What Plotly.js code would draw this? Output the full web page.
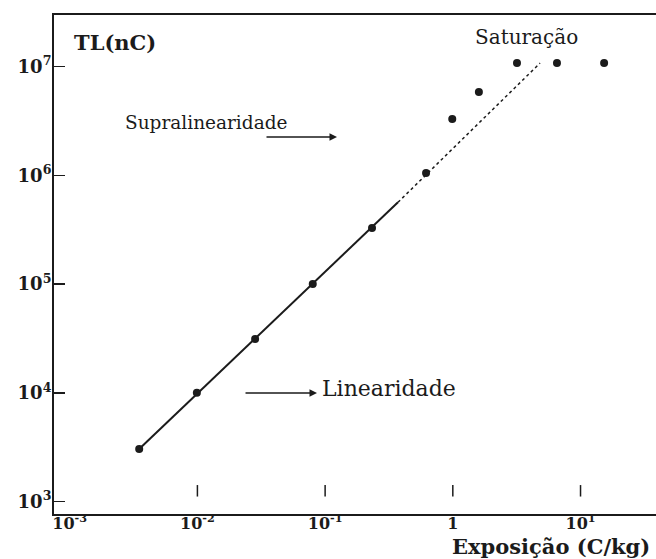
<!DOCTYPE html>
<html>
<head>
<meta charset="utf-8">
<script src="https://cdn.plot.ly/plotly-3.0.1.min.js"></script>
<style>html,body{margin:0;padding:0;background:#fff;}#chart{width:656px;height:559px;}</style>
</head>
<body>
<div id="chart"></div>
<script>
// Measured points: exposure (C/kg) vs TL (nC)
const exposure = [0.0035, 0.0099, 0.0283, 0.080, 0.233, 0.617, 0.99, 1.6, 3.18, 6.54, 15.3];
const tlCharge = [3040, 10000, 31300, 100000, 328000, 1050000, 3300000, 5850000, 10800000, 10800000, 10800000];
// Linear fit (solid) and its extrapolation (dotted)
const fitX = [0.0035, 0.372];
const fitY = [3040, 566000];
const extX = [0.372, 4.82];
const extY = [566000, 10800000];
// Axis ticks
const xTickVals = [0.001, 0.01, 0.1, 1, 10];
const xTickText = ['<b>10<sup>-3</sup></b>', '<b>10<sup>-2</sup></b>', '<b>10<sup>-1</sup></b>', '<b>1</b>', '<b>10<sup>1</sup></b>'];
const xMarkVals = [0.01, 0.1, 1, 10];
const yTickVals = [1e3, 1e4, 1e5, 1e6, 1e7];
const yTickText = ['<b>10<sup>3</sup></b>', '<b>10<sup>4</sup></b>', '<b>10<sup>5</sup></b>', '<b>10<sup>6</sup></b>', '<b>10<sup>7</sup></b>'];

const ink = '#1b1b1b';
const serif = 'DejaVu Serif, Liberation Serif, serif';

const traces = [
  {x: fitX, y: fitY, mode: 'lines', line: {color: ink, width: 2}, hoverinfo: 'skip'},
  {x: extX, y: extY, mode: 'lines', line: {color: ink, width: 1.5, dash: 'dot'}, hoverinfo: 'skip'},
  {x: exposure, y: tlCharge, mode: 'markers', marker: {color: ink, size: 8}}
];

const shapes = xMarkVals.map(v => ({
  type: 'line', xref: 'x', yref: 'paper', x0: v, x1: v, y0: 0.035, y1: 0.058,
  line: {color: ink, width: 1.5}
}));

function lab(text, x, y, size) {
  return {text: text, xref: 'paper', yref: 'paper', x: x, y: y, xanchor: 'center', yanchor: 'middle',
          showarrow: false, font: {family: serif, size: size, color: ink}};
}
const annotations = [
  lab('<b>TL(nC)</b>', 0.1013, 0.9439, 21),
  lab('Saturação', 0.7849, 0.9559, 20),
  lab('Supralinearidade', 0.2525, 0.7836, 18.5),
  lab('Linearidade', 0.5557, 0.2525, 22),
  {text: '', xref: 'paper', yref: 'paper', x: 0.4701, y: 0.7555, ax: -72, ay: 0, showarrow: true, arrowhead: 2, arrowsize: 1, arrowwidth: 1.5, arrowcolor: ink},
  {text: '', xref: 'paper', yref: 'paper', x: 0.4369, y: 0.2425, ax: -73, ay: 0, showarrow: true, arrowhead: 2, arrowsize: 1, arrowwidth: 1.5, arrowcolor: ink},
  {text: '<b>Exposição (C/kg)</b>', xref: 'paper', yref: 'paper', x: 1, y: 0, xanchor: 'right', yanchor: 'bottom', xshift: -5, yshift: -46, borderpad: 0, showarrow: false, font: {family: serif, size: 21, color: ink}}
];

const layout = {
  width: 656, height: 559,
  margin: {l: 54, r: 0, t: 15, b: 45},
  paper_bgcolor: '#ffffff', plot_bgcolor: '#ffffff',
  showlegend: false,
  font: {family: serif, color: ink},
  xaxis: {
    type: 'log', range: [-3.123, 1.591],
    tickmode: 'array', tickvals: xTickVals, ticktext: xTickText,
    ticks: '', showgrid: false, zeroline: false,
    showline: true, linecolor: ink, linewidth: 2, mirror: true,
    ticklabelstandoff: -6,
    tickfont: {family: serif, size: 16, color: ink}
  },
  yaxis: {
    type: 'log', range: [2.885, 7.476],
    tickmode: 'array', tickvals: yTickVals, ticktext: yTickText,
    ticks: 'inside', ticklen: 11, tickwidth: 1.5, tickcolor: ink,
    showgrid: false, zeroline: false,
    showline: true, linecolor: ink, linewidth: 2,
    ticklabelstandoff: -3,
    tickfont: {family: serif, size: 18, color: ink}
  },
  shapes: shapes,
  annotations: annotations
};

Plotly.newPlot('chart', traces, layout, {displayModeBar: false, staticPlot: true});
</script>
</body>
</html>
